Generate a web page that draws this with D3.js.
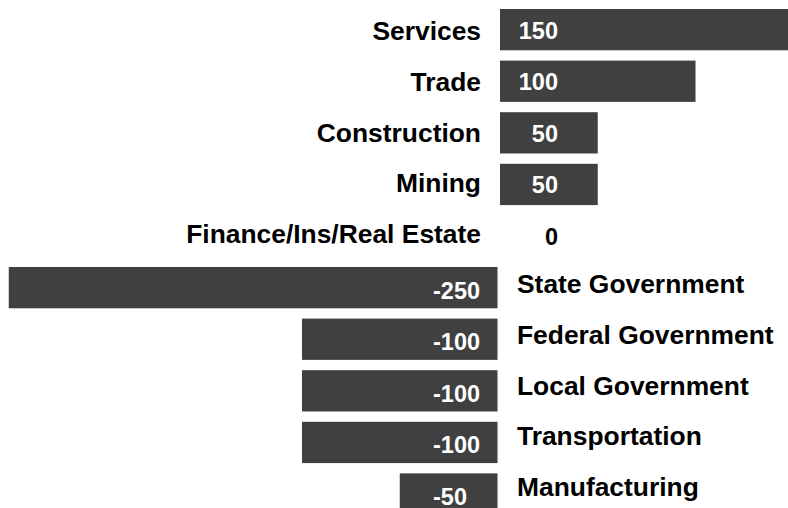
<!DOCTYPE html>
<html>
<head>
<meta charset="utf-8">
<script src="https://cdn.jsdelivr.net/npm/d3@7"></script>
<style>
  html, body { margin: 0; padding: 0; background: #fff; overflow: hidden; }
  svg { display: block; font-family: "Liberation Sans", Arial, sans-serif; font-weight: bold; }
</style>
</head>
<body>
<svg id="chart" width="788" height="508"></svg>
<script>
/* data */
const categories = ["Services", "Trade", "Construction", "Mining", "Finance/Ins/Real Estate",
                    "State Government", "Federal Government", "Local Government", "Transportation", "Manufacturing"];
const values = [150, 100, 50, 50, 0, -250, -100, -100, -100, -50];

const svg = d3.select("#chart");

/* scales */
const x = d3.scaleLinear().domain([-250, 150]).range([499 - 250 * 1.955, 499 + 150 * 1.955]);
const y = d3.scaleBand().domain(categories)
  .range([9 - 5.16, 9 - 5.16 + 51.6 * categories.length])
  .paddingInner(0.2).paddingOuter(0.1);
// category labels sit on a slightly tighter pitch than the bars
const yLab = d3.scalePoint().domain(categories).range([31, 486.5]);

const x0 = x(0);
const rows = values.map((v, i) => ({cat: categories[i], v}));

/* bars */
svg.append("g").selectAll("rect")
  .data(rows.filter(d => d.v !== 0))
  .enter().append("rect")
  .attr("x", d => d.v > 0 ? x0 + 1 : x(d.v) - 1.5)
  .attr("width", d => Math.abs(x(d.v) - x0))
  .attr("y", d => y(d.cat))
  .attr("height", y.bandwidth())
  .attr("fill", "#404040");

/* value labels */
svg.append("g").selectAll("text")
  .data(rows)
  .enter().append("text")
  .attr("x", d => d.v >= 0 ? x0 + 59 : x0 - 66)
  .attr("y", d => y(d.cat) + y.bandwidth() / 2 + (d.v < 0 ? 2.5 : 0.5) + 8.4)
  .attr("text-anchor", d => d.v >= 0 ? "end" : "start")
  .attr("font-size", "23.5px")
  .attr("fill", d => d.v === 0 ? "#000" : "#fff")
  .text(d => String(d.v));

/* category labels */
svg.append("g").selectAll("text")
  .data(rows)
  .enter().append("text")
  .attr("x", d => d.v >= 0 ? x0 - 18 : x0 + 18)
  .attr("y", d => yLab(d.cat) + 9.4)
  .attr("text-anchor", d => d.v >= 0 ? "end" : "start")
  .attr("font-size", "26.4px")
  .attr("fill", "#000")
  .text(d => d.cat);
</script>
</body>
</html>
